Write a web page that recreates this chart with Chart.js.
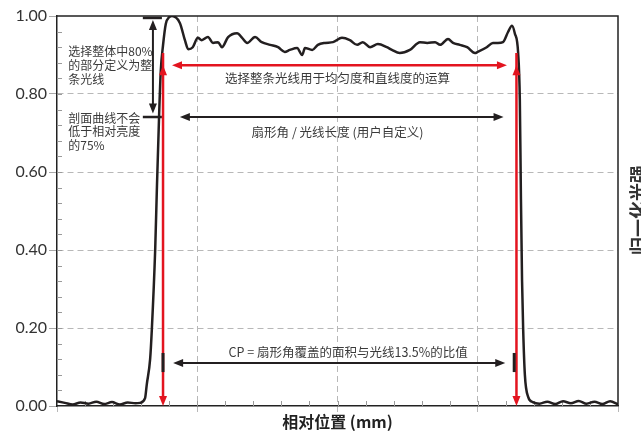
<!DOCTYPE html>
<html>
<head>
<meta charset="utf-8">
<script src="https://cdn.jsdelivr.net/npm/chart.js@4/dist/chart.umd.min.js"></script>
<style>
  html, body { margin: 0; padding: 0; background: #fff; }
</style>
</head>
<body>
<canvas id="profile" width="641" height="435"></canvas>
<script>
// relative position (0-100 across the plot) and normalised intensity
const positions = [
  0, 1.4, 2.8, 4.2, 5.6, 7.0, 8.4, 9.8, 11.2, 12.6, 14.0, 14.8,
  15.7, 16.0, 16.6, 16.9, 17.5, 17.8, 18.2, 18.5, 18.9, 19.4, 20.0, 20.5,
  21.9, 22.8, 23.4, 24.2, 25.1, 25.8, 26.9, 27.8, 28.7, 29.4, 30.5, 32.1,
  33.0, 33.9, 35.3, 36.5, 38.0, 39.4, 40.6, 41.5, 42.8, 43.7, 44.2, 45.5,
  46.5, 47.8, 49.2, 50.8, 52.2, 53.5, 54.5, 55.8, 57.2, 58.8, 59.7, 61.1,
  62.9, 64.7, 66.0, 67.4, 68.3, 69.7, 70.6, 71.8, 73.1, 74.5, 75.0, 76.6,
  77.7, 78.6, 79.5, 80.4, 81.1, 81.6, 82.2, 82.5, 82.7, 82.9, 83.1, 83.4,
  84.0, 84.8, 86.0, 87.4, 88.8, 90.2, 91.6, 93.0, 94.4, 95.8, 97.2, 98.6, 100
];
const intensity = [
  0.012, 0.008, 0.004, 0.009, 0.006, 0.011, 0.005, 0.010, 0.004, 0.009, 0.007, 0.008,
  0.020, 0.055, 0.120, 0.195, 0.400, 0.555, 0.745, 0.860, 0.925, 0.980, 0.997, 1.000,
  0.982, 0.938, 0.915, 0.920, 0.944, 0.938, 0.946, 0.931, 0.933, 0.920, 0.946, 0.956,
  0.944, 0.931, 0.946, 0.933, 0.926, 0.920, 0.908, 0.913, 0.918, 0.900, 0.918, 0.913,
  0.926, 0.931, 0.933, 0.944, 0.938, 0.926, 0.933, 0.920, 0.928, 0.920, 0.913, 0.905,
  0.913, 0.933, 0.931, 0.933, 0.926, 0.941, 0.931, 0.926, 0.920, 0.905, 0.908, 0.920,
  0.931, 0.931, 0.933, 0.959, 0.975, 0.956, 0.905, 0.785, 0.530, 0.320, 0.195, 0.080,
  0.023, 0.010, 0.006, 0.011, 0.005, 0.012, 0.007, 0.013, 0.006, 0.011, 0.005, 0.012, 0.004
];
const yTickStep = 0.2;
const xGridStep = 25;

const RED = "#e3141f";
const INK = "#231f20";
const GRID = "#b8b8b8";

function arrowHead(ctx, x1, y1, x2, y2, color) {
  // filled triangle with its tip at (x2, y2), pointing away from (x1, y1)
  const ang = Math.atan2(y2 - y1, x2 - x1);
  const len = 10, half = 4;
  ctx.fillStyle = color;
  ctx.beginPath();
  ctx.moveTo(x2, y2);
  ctx.lineTo(x2 - len * Math.cos(ang) + half * Math.sin(ang), y2 - len * Math.sin(ang) - half * Math.cos(ang));
  ctx.lineTo(x2 - len * Math.cos(ang) - half * Math.sin(ang), y2 - len * Math.sin(ang) + half * Math.cos(ang));
  ctx.closePath();
  ctx.fill();
}

function segment(ctx, x1, y1, x2, y2, color, width) {
  ctx.strokeStyle = color;
  ctx.lineWidth = width;
  ctx.beginPath();
  ctx.moveTo(x1, y1);
  ctx.lineTo(x2, y2);
  ctx.stroke();
}

function arrow(ctx, x1, y1, x2, y2, color, width, both) {
  const ang = Math.atan2(y2 - y1, x2 - x1);
  const cut = 8;
  const sx = both ? x1 + cut * Math.cos(ang) : x1;
  const sy = both ? y1 + cut * Math.sin(ang) : y1;
  segment(ctx, sx, sy, x2 - cut * Math.cos(ang), y2 - cut * Math.sin(ang), color, width);
  arrowHead(ctx, x1, y1, x2, y2, color);
  if (both) arrowHead(ctx, x2, y2, x1, y1, color);
}

const frameAndTicks = {
  id: "frameAndTicks",
  beforeDatasetsDraw(chart) {
    const { ctx, chartArea: a, scales: { x, y } } = chart;
    ctx.save();
    // minor ticks, inside the frame
    ctx.strokeStyle = "#9a9a9a";
    ctx.lineWidth = 1;
    for (let v = 0.04; v < 1; v += 0.04) {
      const p = Math.round(y.getPixelForValue(v)) + 0.5;
      ctx.beginPath();
      ctx.moveTo(a.left, p);
      ctx.lineTo(a.left + 5, p);
      ctx.stroke();
    }
    for (let v = 5; v < 100; v += 5) {
      const p = Math.round(x.getPixelForValue(v)) + 0.5;
      ctx.beginPath();
      ctx.moveTo(p, a.bottom);
      ctx.lineTo(p, a.bottom - 5);
      ctx.stroke();
    }
    // top and right sides of the box
    ctx.strokeStyle = "#222";
    ctx.lineWidth = 1.5;
    ctx.beginPath();
    ctx.moveTo(a.left, a.top);
    ctx.lineTo(a.right, a.top);
    ctx.lineTo(a.right, a.bottom);
    ctx.stroke();
    ctx.restore();
  },
};

const annotate = {
  id: "annotate",
  afterDatasetsDraw(chart) {
    const { ctx, scales: { x, y } } = chart;
    const px = (v) => x.getPixelForValue(v);
    const py = (v) => y.getPixelForValue(v);
    ctx.save();

    // 80% band markers on the left
    segment(ctx, px(15.3), py(0.995), px(18.7), py(0.995), INK, 2.5);
    segment(ctx, px(15.3), py(0.741), px(18.7), py(0.741), INK, 2.5);
    arrow(ctx, px(17.1), py(0.99), px(17.1), py(0.75), INK, 2, true);

    // red edges of the whole line
    for (const xv of [18.9, 81.9]) {
      segment(ctx, px(xv), py(0.905), px(xv), py(0.02), RED, 2.5);
      arrowHead(ctx, px(xv), py(0.5), px(xv), py(0), RED);
      arrowHead(ctx, px(xv), py(0.8), px(xv), py(0.874), RED);
    }
    arrow(ctx, px(20.5), py(0.874), px(80.2), py(0.874), RED, 2.5, true);

    // fan angle arrow
    arrow(ctx, px(21.9), py(0.741), px(79.6), py(0.741), INK, 2, true);

    // 13.5% markers and CP arrow
    segment(ctx, px(18.9), py(0.136), px(18.9), py(0.087), INK, 3);
    segment(ctx, px(81.5), py(0.136), px(81.5), py(0.087), INK, 3);
    arrow(ctx, px(20.7), py(0.11), px(79.9), py(0.11), INK, 2, true);

    // texts
    ctx.fillStyle = "#3a3a3a";
    ctx.textBaseline = "middle";
    ctx.textAlign = "left";
    ctx.font = '12px "Noto Sans CJK SC"';
    const left = [
      ["选择整体中80%", 0.908], ["的部分定义为整", 0.874], ["条光线", 0.838],
      ["剖面曲线不会", 0.738], ["低于相对亮度", 0.703], ["的75%", 0.669],
    ];
    for (const [t, v] of left) ctx.fillText(t, px(2.0), py(v));

    ctx.textAlign = "center";
    ctx.font = '12.5px "Noto Sans CJK SC"';
    ctx.fillText("选择整条光线用于均匀度和直线度的运算", px(50), py(0.841));
    ctx.fillText("扇形角 / 光线长度 (用户自定义)", px(50), py(0.703));
    ctx.fillText("CP = 扇形角覆盖的面积与光线13.5%的比值", px(51.9), py(0.139));

    ctx.restore();

    // right side label, cut by the edge as in the picture
    ctx.save();
    ctx.translate(638, 210);
    ctx.rotate(-Math.PI / 2);
    ctx.fillStyle = "#333";
    ctx.font = 'bold 18px "Noto Sans CJK SC"';
    ctx.textAlign = "center";
    ctx.textBaseline = "middle";
    ctx.fillText("归一化光强", 0, 0);
    ctx.restore();
  },
};

const edgeClear = (ctx) =>
  ctx.tick && (ctx.tick.value === 0 || ctx.tick.value === ctx.scale.max) ? "rgba(0,0,0,0)" : GRID;

new Chart(document.getElementById("profile"), {
  type: "line",
  data: {
    datasets: [
      {
        data: positions.map((p, i) => ({ x: p, y: intensity[i] })),
        borderColor: INK,
        borderWidth: 2.5,
        pointRadius: 0,
        cubicInterpolationMode: "monotone",
        fill: false,
      },
    ],
  },
  options: {
    responsive: false,
    animation: false,
    devicePixelRatio: 1,
    layout: { padding: { top: 16, right: 23, left: 0, bottom: 0 } },
    plugins: { legend: { display: false }, tooltip: { enabled: false } },
    scales: {
      x: {
        type: "linear",
        min: 0,
        max: 100,
        ticks: { display: false, stepSize: xGridStep },
        grid: { color: edgeClear, lineWidth: 1, tickLength: 6, tickColor: GRID },
        border: { color: "#222", width: 1.5, dash: [6, 4] },
        title: {
          display: true,
          text: "相对位置 (mm)",
          color: "#222",
          font: { family: "Noto Sans CJK SC", size: 16, weight: "bold" },
          padding: { top: 0, bottom: 3 },
        },
        afterFit: (s) => { s.height = 29; },
      },
      y: {
        min: 0,
        max: 1,
        ticks: {
          stepSize: yTickStep,
          callback: (v) => v.toFixed(2),
          color: "#333",
          font: { family: "Lato", size: 16 },
          padding: 2,
        },
        grid: { color: edgeClear, lineWidth: 1, tickLength: 8, tickColor: "#a8a8a8" },
        border: { color: "#222", width: 1.5, dash: [6, 4] },
        afterFit: (s) => { s.width = 57; },
      },
    },
  },
  plugins: [frameAndTicks, annotate],
});
</script>
</body>
</html>
